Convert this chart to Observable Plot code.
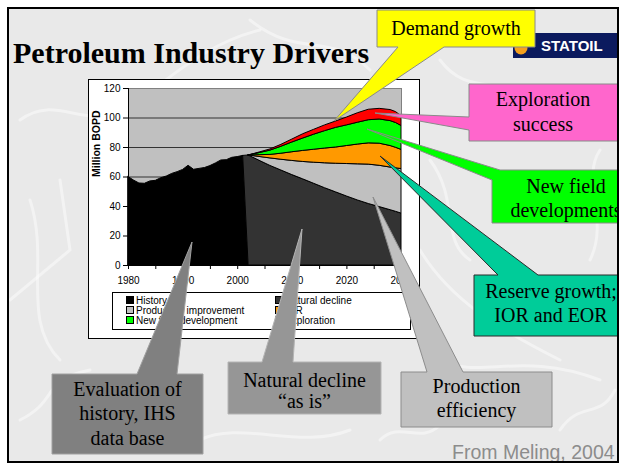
<!DOCTYPE html>
<html><head><meta charset="utf-8">
<script src="https://cdn.jsdelivr.net/npm/d3@7"></script>
<script src="https://cdn.jsdelivr.net/npm/@observablehq/plot@0.6"></script>
<style>
html,body{margin:0;padding:0;background:#fff;}
#slide{position:relative;width:624px;height:464px;overflow:hidden;background:#fff;}
#slide svg{position:absolute;left:0;top:0;}
#chart{position:absolute;left:88px;top:79px;width:332px;height:260px;}
#legend{position:absolute;left:112px;top:292px;width:297px;height:36px;background:#fff;border:1px solid #000;font-family:"Liberation Sans",Arial,sans-serif;font-size:10px;}
.li{position:absolute;white-space:nowrap;line-height:10px;}
.sw{display:inline-block;width:6px;height:6px;border:1px solid #000;margin-right:2px;vertical-align:0px;}
</style></head><body>
<div id="slide"></div>
<script>
// ---------- data ----------
const seriesNames = ["History", "Natural decline", "Production improvement", "IOR", "New field development", "Exploration"];
const seriesColors = ["#000000", "#333333", "#c0c0c0", "#ff9900", "#00ff00", "#ff0000"];

const historyYears = [1980, 1981, 1982, 1983, 1984, 1985, 1986, 1987, 1988, 1989, 1990, 1991, 1992, 1993, 1994, 1995, 1996, 1997, 1998, 1999, 2000, 2001];
const historyValues = [60, 57.6, 55.6, 55.4, 57, 57.4, 59.2, 60.3, 62.1, 63.3, 64.8, 67.6, 64.9, 65.5, 66.1, 67.4, 69.2, 71.2, 71.4, 73, 73.5, 74.3];

const forecastYears = [2002, 2004, 2006, 2008, 2010, 2012, 2014, 2016, 2018, 2020, 2022, 2024, 2026, 2028, 2029, 2030];
const naturalDecline = [74.6, 71, 67.5, 64.4, 61.3, 58.4, 55.4, 52.4, 49.6, 46.8, 44.1, 41.7, 39.6, 37.5, 36.4, 35.2];
const productionImprovement = [0, 2.6, 5.1, 7.3, 9.6, 11.8, 14.3, 16.9, 19.4, 22.0, 24.5, 26.7, 28.0, 28.9, 29.5, 30.2];
const ior = [0, 1.2, 2.4, 4.1, 5.9, 7.5, 8.8, 10.0, 11.0, 12.2, 13.4, 14.4, 15.0, 14.6, 13.9, 13.0];
const newField = [0, 1.4, 2.9, 4.7, 6.6, 8.4, 10.2, 11.8, 13.3, 14.0, 14.8, 15.7, 16.4, 16.9, 16.8, 16.2];
const exploration = [0, 0.4, 0.8, 1.3, 2.0, 2.9, 3.3, 3.9, 4.3, 5.3, 6.4, 7.1, 7.2, 7.5, 7.4, 6.6];

const yTicks = [0, 20, 40, 60, 80, 100, 120];
const xTicks = [1980, 1985, 1990, 1995, 2000, 2005, 2010, 2015, 2020, 2025, 2030];
const xLabelYears = [1980, 1990, 2000, 2010, 2020, 2030];

// ---------- build table ----------
const rows = [];
historyYears.forEach((yr, i) => rows.push({year: yr, series: "History", value: historyValues[i]}));
rows.push({year: forecastYears[0], series: "History", value: 0});
rows.push({year: historyYears[historyYears.length - 1], series: "Natural decline", value: 0});
const forecastSeries = [naturalDecline, productionImprovement, ior, newField, exploration];
forecastYears.forEach((yr, i) => {
  forecastSeries.forEach((arr, k) => rows.push({year: yr, series: seriesNames[k + 1], value: arr[i]}));
});

// ---------- slide ----------
const slide = document.getElementById("slide");
const serif = "'Liberation Serif','Times New Roman',serif";
const sans = "'Liberation Sans',Arial,sans-serif";

const texture = [
  "M20,120 C60,90 90,140 140,100 S220,40 260,30",
  "M30,200 C50,260 20,320 60,360",
  "M10,300 L70,250 L60,180",
  "M250,20 C300,60 330,30 370,70",
  "M440,60 C470,100 500,70 560,110",
  "M430,160 C460,200 440,240 470,260",
  "M420,250 C450,300 500,330 560,360",
  "M440,360 C480,380 520,350 600,380",
  "M200,440 C240,420 300,450 350,430",
  "M560,430 C580,400 600,420 615,390",
  "M20,420 C60,400 40,380 90,370",
  "M380,440 C400,420 420,445 440,425",
  "M600,150 C580,180 610,220 590,260"
];
let bg = `<svg width="624" height="464">
<rect x="8" y="8" width="610" height="454" fill="#e9e9e9"/>
<g fill="none" stroke="#ffffff" stroke-opacity="0.45" stroke-width="3" stroke-linecap="round">
${texture.map(d => `<path d="${d}"/>`).join("")}
</g>
<text x="13" y="63" font-family="${serif}" font-weight="bold" font-size="30">Petroleum Industry Drivers</text>
<rect x="513" y="33" width="106" height="25" fill="#0b1a5e"/>
<circle cx="521" cy="48" r="6.5" fill="#f5a01e"/>
<text x="541" y="51" font-family="${sans}" font-weight="bold" font-size="15" fill="#fff">STATOIL</text>
<rect x="88.5" y="79.5" width="331" height="259" fill="#fff" stroke="#000" stroke-width="1"/>
</svg>`;
slide.insertAdjacentHTML("beforeend", bg);

// ---------- chart ----------
const chartDiv = document.createElement("div");
chartDiv.id = "chart";
slide.appendChild(chartDiv);

const chart = Plot.plot({
  width: 332, height: 260,
  marginLeft: 40, marginRight: 19, marginTop: 9, marginBottom: 74,
  style: {fontFamily: sans, fontSize: "10px", background: "transparent", color: "#000", overflow: "visible"},
  x: {domain: [1980, 2030], ticks: xTicks, tickSize: 4, tickPadding: 7, label: null,
      tickFormat: d => xLabelYears.includes(d) ? String(d) : ""},
  y: {domain: [0, 120], ticks: yTicks, tickSize: 5, tickPadding: 3, label: null},
  color: {domain: seriesNames, range: seriesColors},
  marks: [
    Plot.frame({fill: "#c0c0c0"}),
    Plot.ruleY(yTicks.slice(1), {stroke: "#333333", strokeWidth: 1}),
    Plot.areaY(rows, Plot.stackY({x: "year", y: "value", z: "series", fill: "series", order: seriesNames,
      stroke: "#000", strokeWidth: 1, strokeLinejoin: "round"})),
    Plot.frame({stroke: "#808080"}),
    Plot.ruleX([1980], {stroke: "#000"}),
    Plot.ruleY([0], {stroke: "#000"}),
    Plot.text(["Million BOPD"], {frameAnchor: "left", rotate: -90, dx: -32, fontWeight: "bold", fontSize: 10.5})
  ]
});
chartDiv.appendChild(chart);

// ---------- legend ----------
const legend = document.createElement("div");
legend.id = "legend";
const legendPos = [[13, 3], [162, 3], [13, 12.5], [162, 12.5], [13, 22.5], [162, 22.5]];
seriesNames.forEach((name, k) => {
  const el = document.createElement("div");
  el.className = "li";
  el.style.left = legendPos[k][0] + "px";
  el.style.top = legendPos[k][1] + "px";
  el.innerHTML = `<span class="sw" style="background:${seriesColors[k]}"></span>${name}`;
  legend.appendChild(el);
});
slide.appendChild(legend);

// ---------- callouts overlay ----------
function callout(d, fill, stroke, lines, cx, baselines) {
  return `<path d="${d}" fill="${fill}" stroke="${stroke}" stroke-width="1" stroke-linejoin="miter"/>` +
    lines.map((t, i) => `<text x="${cx}" y="${baselines[i]}" text-anchor="middle" font-family="${serif}" font-size="20" fill="#000">${t}</text>`).join("");
}
let ov = `<svg width="624" height="464">
<defs><clipPath id="slideclip"><rect x="0" y="0" width="617" height="462"/></clipPath></defs>
<g clip-path="url(#slideclip)">
${callout("M377,10 L535,10 L535,47 L444,47 L334,121 L398,47 L377,47 Z", "#ffff00", "#8a8a8a", ["Demand growth"], 456, [35])}
${callout("M469,84 L630,84 L630,141 L469,141 L469,130 L375,113 L469,117 Z", "#ff66cc", "#8a8a8a", ["Exploration", "success"], 543, [106, 131])}
${callout("M492,180 L367,129 L500,170 L630,170 L630,223 L492,223 Z", "#00ff00", "#8a8a8a", ["New field", "developments"], 566, [193, 217])}
${callout("M474,275 L498,275 L380,156 L538,275 L630,275 L630,336 L474,336 Z", "#00cc99", "#2a2a2a", ["Reserve growth;", "IOR and EOR"], 551, [298, 322])}
${callout("M52,374 L137,374 L192,242 L177,374 L203,374 L203,454 L52,454 Z", "#808080", "#a0a0a0", ["Evaluation of", "history, IHS", "data base"], 127.5, [396, 420, 445])}
${callout("M228,362 L262,362 L302,229 L293,362 L381,362 L381,414 L228,414 Z", "#969696", "#b4b4b4", ["Natural decline", "\u201cas is\u201d"], 304.5, [387, 408])}
${callout("M401,372 L427,372 L373,197 L463,372 L552,372 L552,427 L401,427 Z", "#c0c0c0", "#8c8c8c", ["Production", "efficiency"], 476.5, [393, 417])}
<text x="452" y="459" font-family="${sans}" font-size="19.5" fill="#8c8c8c">From Meling, 2004</text>
</g>
<rect x="8" y="8" width="610" height="454" fill="none" stroke="#000" stroke-width="2"/>
</svg>`;
slide.insertAdjacentHTML("beforeend", ov);
</script>
</body></html>
